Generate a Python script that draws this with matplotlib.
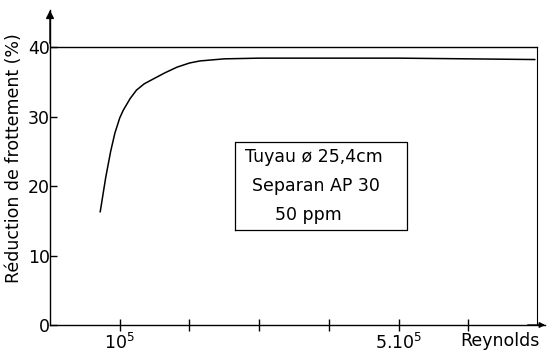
import matplotlib
matplotlib.use("Agg")
import matplotlib.pyplot as plt

plt.rcParams['font.family'] = ['DejaVu Sans']
plt.rcParams['mathtext.fontset'] = 'dejavusans'

# Reynolds number (x 1e5) and drag reduction (%)
reynolds = [0.72, 0.80, 0.87, 0.93, 1.00, 1.05, 1.15, 1.24, 1.35, 1.48,
            1.65, 1.82, 2.00, 2.15, 2.50, 3.00, 4.00, 5.00, 6.00, 6.95]
reduction = [16.3, 21.3, 25.0, 27.6, 29.8, 30.9, 32.6, 33.8, 34.7, 35.4,
             36.3, 37.1, 37.7, 38.0, 38.3, 38.4, 38.4, 38.4, 38.3, 38.2]

max_reduction = 40
y_ticks = [0, 10, 20, 30, 40]
x_ticks = [1, 2, 3, 4, 5, 6]
x_tick_labels = [r'$10^5$', '', '', '', r'$5.10^5$', '']
box_lines = ["Tuyau ø 25,4cm", "Separan AP 30", "50 ppm"]

FS = 12.5

fig = plt.figure(figsize=(5.48, 3.53), dpi=100)
ax = fig.add_axes([50 / 548, 28 / 353, 495.2 / 548, 314.8 / 353])
ax.set_xlim(0, 7.1)
ax.set_ylim(0, 45.3)

for s in ('top', 'right'):
    ax.spines[s].set_visible(False)
for s in ('left', 'bottom'):
    ax.spines[s].set_linewidth(1.0)

# axis arrows
ax.annotate('', xy=(0, 45.3), xytext=(0, 40.5),
            arrowprops=dict(arrowstyle='-|>', lw=1.0, color='black',
                            mutation_scale=12, shrinkA=0, shrinkB=0),
            annotation_clip=False)
ax.annotate('', xy=(7.1, 0), xytext=(6.85, 0),
            arrowprops=dict(arrowstyle='-|>', lw=1.0, color='black',
                            mutation_scale=8, shrinkA=0, shrinkB=0),
            annotation_clip=False)

# 40 % limit frame
ax.plot([0, 6.98], [max_reduction, max_reduction], color='black', lw=1.0)
ax.plot([6.98, 6.98], [0, max_reduction], color='black', lw=0.8)

ax.plot(reynolds, reduction, color='black', lw=1.1)

ax.set_yticks(y_ticks)
ax.set_yticklabels([str(v) for v in y_ticks], fontsize=FS)
ax.tick_params(axis='y', direction='in', length=5, width=1.0, pad=0)
ax.set_xticks(x_ticks)
ax.set_xticklabels(x_tick_labels, fontsize=FS)
ax.tick_params(axis='x', direction='inout', length=9, width=1.0, pad=1)

ax.text(7.02, -1.0, 'Reynolds', ha='right', va='top', fontsize=FS)
fig.text(14 / 548, 1 - 158 / 353, 'Réduction de frottement (%)',
         rotation=90, ha='center', va='center', fontsize=FS)

# annotation box
bx0, bx1 = 2.65, 5.12
by0, by1 = 13.7, 26.4
ax.plot([bx0, bx1, bx1, bx0, bx0], [by0, by0, by1, by1, by0],
        color='black', lw=0.9)
ax.text(2.80, 24.2, box_lines[0], ha='left', va='center', fontsize=FS)
ax.text(2.90, 20.0, box_lines[1], ha='left', va='center', fontsize=FS)
ax.text(3.22, 15.8, box_lines[2], ha='left', va='center', fontsize=FS)

fig.savefig('out.png', dpi=100)
